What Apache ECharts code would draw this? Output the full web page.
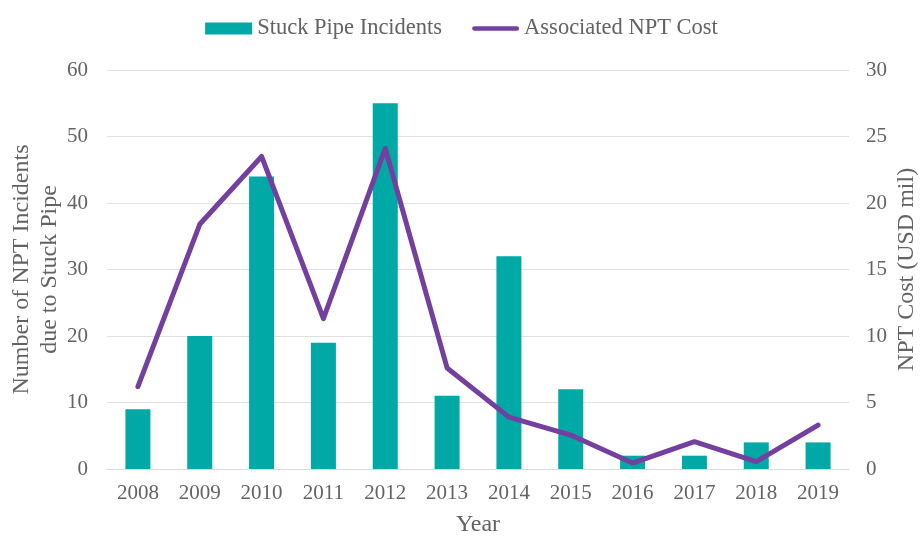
<!DOCTYPE html>
<html><head><meta charset="utf-8">
<script src="https://cdn.jsdelivr.net/npm/echarts@6/dist/echarts.min.js"></script>
<style>html,body{margin:0;padding:0;background:#fff}#c{width:923px;height:538px}</style>
</head><body><div id="c"></div>
<script>
const years = ['2008','2009','2010','2011','2012','2013','2014','2015','2016','2017','2018','2019'];
const incidents = [9,20,44,19,55,11,32,12,2,2,4,4];
const nptCost = [6.2,18.4,23.5,11.3,24.1,7.6,3.9,2.55,0.45,2.05,0.55,3.3];
const leftTicks = {min:0,max:60,interval:10};
const rightTicks = {min:0,max:30,interval:5};

const font = 'Liberation Serif';
const gray = '#636363';
const chart = echarts.init(document.getElementById('c'));
chart.setOption({
  animation:false,
  textStyle:{fontFamily:font},
  legend:{
    top:12, left:'center', itemGap:30, itemWidth:47, itemHeight:12,
    textStyle:{fontFamily:font,fontSize:22.5,color:gray},
    data:[
      {name:'Stuck Pipe Incidents',icon:'rect'},
      {name:'Associated NPT Cost',icon:'path://M2.5,0 L47.5,0 A2.5,2.5 0 0 1 47.5,5 L2.5,5 A2.5,2.5 0 0 1 2.5,0 Z'}
    ]
  },
  grid:{left:107,right:74,top:70,bottom:69,containLabel:false,outerBoundsMode:'none'},
  xAxis:{
    type:'category', data:years, name:'Year', nameLocation:'middle', nameGap:44,
    nameTextStyle:{fontFamily:font,fontSize:24,color:gray},
    axisLine:{lineStyle:{color:'#d9d9d9'}}, axisTick:{show:false},
    axisLabel:{fontFamily:font,fontSize:21,color:gray,margin:14}
  },
  yAxis:[{
    type:'value', ...leftTicks, position:'left',
    name:'Number of NPT Incidents\ndue to Stuck Pipe', nameLocation:'middle', nameGap:43, nameRotate:90,
    nameMoveOverlap:false,
    nameTextStyle:{fontFamily:font,fontSize:24,color:gray,lineHeight:28},
    axisLine:{show:false}, axisTick:{show:false},
    axisLabel:{fontFamily:font,fontSize:21,color:gray,margin:19},
    splitLine:{lineStyle:{color:'#e0e0e0',width:1}}
  },{
    type:'value', ...rightTicks, position:'right',
    name:'NPT Cost (USD mil)', nameLocation:'middle', nameGap:46, nameRotate:90,
    nameMoveOverlap:false,
    nameTextStyle:{fontFamily:font,fontSize:24,color:gray},
    axisLine:{show:false}, axisTick:{show:false},
    axisLabel:{fontFamily:font,fontSize:21,color:gray,margin:17},
    splitLine:{show:false}
  }],
  series:[{
    name:'Stuck Pipe Incidents', type:'bar', data:incidents, yAxisIndex:0,
    barWidth:25, itemStyle:{color:'#00A9A5'}
  },{
    name:'Associated NPT Cost', type:'line', data:nptCost, yAxisIndex:1,
    symbol:'none', lineStyle:{color:'#7340A0',width:5,cap:'round',join:'round'},
    itemStyle:{color:'#7340A0'}
  }]
});
</script></body></html>
